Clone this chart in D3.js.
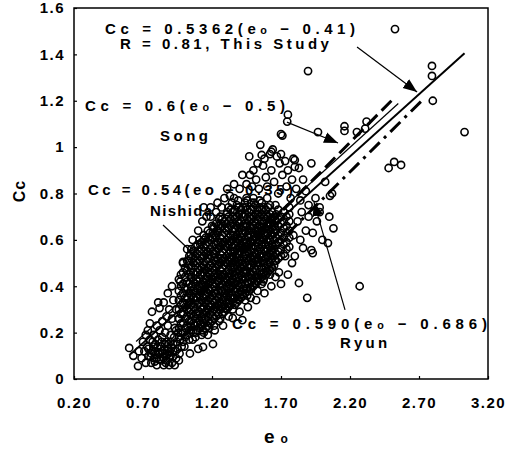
<!DOCTYPE html>
<html>
<head>
<meta charset="utf-8">
<script src="https://d3js.org/d3.v7.min.js"></script>
<style>
  body { margin: 0; background: #fff; }
  text { font-family: "Liberation Sans", Arial, sans-serif; fill: #000; font-weight: bold; }
</style>
</head>
<body>
<svg id="chart" width="509" height="450"></svg>
<script>
// ---- data ----
const xTicks = [0.2, 0.7, 1.2, 1.7, 2.2, 2.7, 3.2];
const yTicks = [0, 0.2, 0.4, 0.6, 0.8, 1, 1.2, 1.4, 1.6];
const yTickLabels = ["0", "0.2", "0.4", "0.6", "0.8", "1", "1.2", "1.4", "1.6"];

// lower-left tail of the cloud [eo, Cc]
const tailPts = [
  [0.60,0.134],[0.664,0.056],[0.63,0.10],[0.67,0.12],[0.69,0.09],[0.70,0.16],[0.71,0.12],
  [0.72,0.07],[0.73,0.14],[0.735,0.21],[0.74,0.10],[0.75,0.17],[0.76,0.07],[0.765,0.29],
  [0.77,0.12],[0.78,0.09],[0.79,0.15],[0.80,0.06],[0.81,0.33],[0.82,0.306],[0.81,0.11],
  [0.83,0.08],[0.83,0.14],[0.84,0.18],[0.85,0.06],[0.86,0.11],[0.86,0.15],[0.87,0.08],
  [0.88,0.13],[0.89,0.06],[0.90,0.10],[0.90,0.16],[0.91,0.07],[0.92,0.12],[0.93,0.06],
  [0.94,0.09],[0.78,0.19],[0.80,0.23],[0.82,0.21],[0.84,0.25],[0.86,0.20],[0.87,0.27],
  [0.88,0.23],[0.89,0.30],[0.90,0.19],[0.91,0.26],[0.92,0.34],[0.93,0.22],[0.94,0.30],
  [0.85,0.33],[0.88,0.37],[0.91,0.40],[0.97,0.42],[0.99,0.505],[1.03,0.51],[0.75,0.24],
  [0.72,0.19],[0.95,0.13],[0.96,0.08],[0.74,0.13],[0.77,0.16],[0.79,0.12],[0.81,0.17],
  [0.84,0.12],[0.87,0.16],[0.89,0.09],[0.92,0.15],[0.80,0.09],[0.85,0.09],[0.76,0.11],
  [0.755,0.095],[0.775,0.14],[0.785,0.075],[0.795,0.105],[0.805,0.135],[0.815,0.085],
  [0.825,0.115],[0.835,0.16],[0.845,0.095],[0.855,0.125],[0.865,0.07],[0.875,0.105],
  [0.885,0.15],[0.895,0.115],[0.905,0.135],[0.915,0.095],[0.925,0.18],[0.935,0.12],
  [0.945,0.16],[0.955,0.20],[0.965,0.11],[0.97,0.17],[0.98,0.14],[0.94,0.21],[0.96,0.26]
];

// dense middle of the cloud, one column per eo value: [eo, [Cc ...]]
const coreCols = [
  [0.96, [0.18,0.22,0.26,0.30,0.34,0.38,0.43]],
  [0.99, [0.16,0.20,0.24,0.28,0.33,0.37,0.41,0.46,0.50]],
  [1.02, [0.19,0.23,0.27,0.30,0.35,0.39,0.42,0.47,0.51]],
  [1.05, [0.21,0.25,0.28,0.32,0.36,0.40,0.44,0.48,0.52,0.56]],
  [1.08, [0.18,0.23,0.26,0.30,0.34,0.37,0.41,0.45,0.49,0.53,0.57]],
  [1.11, [0.22,0.25,0.29,0.33,0.36,0.40,0.43,0.47,0.51,0.55,0.60]],
  [1.14, [0.20,0.24,0.28,0.31,0.35,0.38,0.42,0.46,0.49,0.53,0.57,0.62]],
  [1.17, [0.23,0.27,0.30,0.34,0.37,0.41,0.44,0.48,0.52,0.55,0.59,0.64]],
  [1.20, [0.25,0.29,0.32,0.36,0.39,0.43,0.46,0.50,0.53,0.57,0.61,0.66]],
  [1.23, [0.27,0.31,0.34,0.37,0.41,0.44,0.48,0.51,0.55,0.58,0.62,0.67]],
  [1.26, [0.26,0.30,0.33,0.36,0.40,0.43,0.47,0.50,0.54,0.57,0.61,0.65,0.70]],
  [1.29, [0.29,0.32,0.35,0.39,0.42,0.45,0.49,0.52,0.56,0.59,0.63,0.68]],
  [1.32, [0.31,0.34,0.37,0.41,0.44,0.47,0.51,0.54,0.58,0.61,0.65,0.70,0.74]],
  [1.35, [0.30,0.33,0.36,0.40,0.43,0.46,0.50,0.53,0.57,0.60,0.64,0.67,0.72]],
  [1.38, [0.33,0.36,0.39,0.42,0.46,0.49,0.52,0.56,0.59,0.62,0.66,0.70,0.75]],
  [1.41, [0.35,0.38,0.41,0.45,0.48,0.51,0.55,0.58,0.61,0.65,0.68,0.73]],
  [1.44, [0.34,0.37,0.41,0.44,0.47,0.50,0.54,0.57,0.60,0.64,0.67,0.71,0.76]],
  [1.47, [0.38,0.41,0.44,0.48,0.51,0.54,0.58,0.61,0.64,0.68,0.72]],
  [1.50, [0.40,0.43,0.46,0.50,0.53,0.56,0.60,0.63,0.66,0.70,0.74,0.78]],
  [1.53, [0.42,0.45,0.49,0.52,0.55,0.59,0.62,0.65,0.69,0.73]],
  [1.56, [0.41,0.44,0.48,0.51,0.54,0.58,0.61,0.64,0.68,0.71,0.76]],
  [1.59, [0.45,0.48,0.52,0.55,0.58,0.62,0.65,0.69,0.73]],
  [1.62, [0.47,0.50,0.54,0.57,0.60,0.64,0.67,0.71,0.75]],
  [1.65, [0.49,0.53,0.56,0.60,0.63,0.66,0.70]],
  [1.68, [0.52,0.55,0.59,0.62,0.66,0.69,0.73]],
  [1.72, [0.54,0.58,0.61,0.65,0.68,0.72]],
  [1.76, [0.57,0.61,0.64,0.68,0.71]]
];

// second pass over the same dense area, read between the columns above
const coreCols2 = [
  [0.975, [0.20,0.24,0.28,0.32,0.36,0.40,0.45]],
  [1.005, [0.18,0.22,0.26,0.31,0.35,0.39,0.44,0.48]],
  [1.035, [0.17,0.21,0.25,0.29,0.33,0.37,0.41,0.45,0.49,0.53]],
  [1.065, [0.20,0.24,0.27,0.31,0.35,0.38,0.42,0.46,0.50,0.55]],
  [1.095, [0.21,0.24,0.28,0.32,0.35,0.39,0.42,0.46,0.50,0.54,0.58]],
  [1.125, [0.19,0.23,0.27,0.30,0.34,0.38,0.41,0.45,0.48,0.52,0.56,0.59]],
  [1.155, [0.22,0.26,0.29,0.33,0.36,0.40,0.43,0.47,0.51,0.54,0.58,0.61]],
  [1.185, [0.24,0.28,0.31,0.35,0.38,0.42,0.45,0.49,0.52,0.56,0.60,0.63]],
  [1.215, [0.23,0.26,0.30,0.33,0.37,0.40,0.44,0.47,0.51,0.54,0.58,0.62,0.65]],
  [1.245, [0.28,0.32,0.35,0.38,0.42,0.45,0.49,0.52,0.56,0.59,0.63,0.66]],
  [1.275, [0.28,0.31,0.34,0.38,0.41,0.44,0.48,0.51,0.55,0.58,0.62,0.66,0.69]],
  [1.305, [0.30,0.33,0.36,0.40,0.43,0.46,0.50,0.53,0.57,0.60,0.64,0.67,0.71]],
  [1.335, [0.32,0.35,0.39,0.42,0.45,0.49,0.52,0.55,0.59,0.62,0.66,0.69,0.73]],
  [1.365, [0.32,0.35,0.38,0.41,0.45,0.48,0.51,0.55,0.58,0.61,0.65,0.69,0.73]],
  [1.395, [0.34,0.37,0.40,0.44,0.47,0.50,0.54,0.57,0.60,0.64,0.67,0.71,0.74]],
  [1.425, [0.36,0.39,0.43,0.46,0.49,0.53,0.56,0.59,0.63,0.66,0.70,0.74]],
  [1.455, [0.36,0.39,0.42,0.46,0.49,0.52,0.56,0.59,0.62,0.66,0.69,0.73,0.77]],
  [1.485, [0.39,0.42,0.45,0.49,0.52,0.55,0.59,0.62,0.65,0.69,0.73,0.76]],
  [1.515, [0.41,0.44,0.47,0.51,0.54,0.57,0.61,0.64,0.67,0.71,0.75]],
  [1.545, [0.43,0.46,0.50,0.53,0.56,0.60,0.63,0.66,0.70,0.74,0.77]],
  [1.575, [0.43,0.46,0.50,0.53,0.56,0.60,0.63,0.67,0.70,0.74]],
  [1.605, [0.46,0.49,0.53,0.56,0.59,0.63,0.66,0.70,0.74]],
  [1.635, [0.48,0.52,0.55,0.58,0.62,0.65,0.69,0.72]],
  [1.665, [0.51,0.54,0.58,0.61,0.64,0.68,0.71]],
  [1.70, [0.53,0.56,0.60,0.63,0.67,0.70]],
  [1.74, [0.56,0.59,0.63,0.66,0.70]]
];

// third pass, the blackest middle part
const coreCols3 = [
  [1.045, [0.23,0.30,0.38,0.46,0.54]],
  [1.085, [0.20,0.28,0.355,0.43,0.51]],
  [1.115, [0.235,0.31,0.38,0.45,0.53,0.58]],
  [1.145, [0.26,0.33,0.40,0.475,0.55,0.60]],
  [1.175, [0.25,0.32,0.39,0.46,0.535,0.61]],
  [1.205, [0.27,0.34,0.41,0.48,0.55,0.63]],
  [1.235, [0.29,0.355,0.425,0.495,0.565,0.64]],
  [1.265, [0.315,0.38,0.45,0.52,0.59,0.67]],
  [1.295, [0.305,0.37,0.435,0.505,0.575,0.65]],
  [1.325, [0.325,0.39,0.455,0.525,0.595,0.68]],
  [1.355, [0.345,0.415,0.48,0.55,0.62,0.70]],
  [1.385, [0.345,0.405,0.47,0.54,0.605,0.68]],
  [1.415, [0.365,0.43,0.495,0.565,0.63,0.71]],
  [1.445, [0.39,0.455,0.52,0.585,0.655,0.74]],
  [1.475, [0.395,0.46,0.525,0.595,0.66,0.70]],
  [1.505, [0.415,0.48,0.545,0.615,0.68,0.76]],
  [1.535, [0.435,0.505,0.57,0.635,0.71]],
  [1.565, [0.455,0.525,0.59,0.655,0.73]],
  [1.595, [0.465,0.535,0.60,0.67,0.71]],
  [1.625, [0.485,0.555,0.62,0.69]],
  [1.655, [0.51,0.575,0.645,0.685]]
];

// scattered points under the band
const lowerPts = [
  [1.00,0.14],[1.04,0.11],[1.06,0.17],[1.10,0.13],[1.135,0.138],[1.207,0.151],[1.135,0.21],
  [1.17,0.19],[1.22,0.21],[1.28,0.23],[1.35,0.263],[1.42,0.254],[1.32,0.27],[1.40,0.29],
  [1.46,0.31],[1.52,0.34],[1.58,0.37],[1.63,0.40],[1.685,0.46],[1.70,0.41],[1.83,0.414],
  [1.89,0.35],[2.27,0.40],[1.75,0.45],[1.78,0.50],[1.66,0.44],[1.73,0.53],[1.80,0.53],
  [1.86,0.565],[1.93,0.543],[1.92,0.556],[2.00,0.60],[2.04,0.586],[1.93,0.63],[2.08,0.65],
  [1.84,0.60],[1.88,0.64],[1.96,0.68],[1.79,0.62],[1.82,0.68],[1.76,0.74],[1.85,0.72],
  [1.90,0.70],[1.98,0.72],[2.05,0.70],[1.53,0.38],[1.48,0.35],[1.57,0.42],[1.62,0.45],
  [1.25,0.25],[1.18,0.22]
];

// scattered points above the band
const upperPts = [
  [1.02,0.56],[1.06,0.60],[1.10,0.64],[1.13,0.68],[1.16,0.70],[1.19,0.74],[1.21,0.655],
  [1.23,0.72],[1.24,0.76],[1.27,0.74],[1.29,0.78],[1.31,0.82],[1.33,0.79],[1.345,0.76],
  [1.36,0.84],[1.39,0.77],[1.40,0.82],[1.42,0.88],[1.45,0.78],[1.45,0.84],[1.475,0.88],
  [1.49,0.83],[1.50,0.90],[1.52,0.86],[1.54,0.82],[1.55,1.01],[1.56,0.966],[1.57,0.92],
  [1.59,0.87],[1.60,0.83],[1.62,0.97],[1.63,0.90],[1.65,0.85],[1.67,0.96],[1.68,0.80],
  [1.69,0.93],[1.71,1.05],[1.71,0.88],[1.73,0.94],[1.74,0.83],[1.75,0.90],[1.77,0.78],
  [1.78,0.86],[1.80,0.944],[1.81,0.82],[1.83,0.91],[1.84,0.77],[1.86,0.86],[1.88,0.81],
  [1.90,0.75],[1.92,0.93],[1.95,0.78],[1.98,0.74],[2.02,0.85],[2.055,0.79],[2.07,0.80],
  [1.14,0.74],[1.19,0.70],[1.25,0.69],[1.31,0.72],[1.36,0.78],[1.47,0.96],[1.53,0.93],
  [1.58,0.95],[1.64,0.99],[1.70,0.97],[1.60,0.78],[1.66,0.75],[1.63,0.98],[1.79,0.95],
  [1.80,0.915]
];

// far-away points
const outlierPts = [
  [2.526,1.509],[1.896,1.328],[2.794,1.35],[2.794,1.307],[2.80,1.20],[3.03,1.065],
  [1.75,1.14],[1.745,1.11],[1.968,1.065],[1.70,1.056],[2.16,1.09],[2.16,1.07],
  [2.25,1.065],[2.31,1.08],[2.32,1.11],[2.48,0.91],[2.52,0.936],[2.57,0.923]
];

// regression lines Cc = a (eo - b)
const fitNames = ["This Study", "Song", "Nishida", "Ryun"];
const fitSlope = [0.5362, 0.6, 0.54, 0.590];
const fitE0 = [0.41, 0.5, 0.35, 0.686];
const fitFrom = [0.6, 1.0, 0.65, 1.0];
const fitTo = [3.03, 2.5, 2.55, 2.72];

// ---- layout ----
const svg = d3.select("#chart");
const plot = { left: 74, right: 488, top: 8, bottom: 379 };

const x = d3.scaleLinear().domain([0.2, 3.2]).range([plot.left, plot.right]);
const y = d3.scaleLinear().domain([0, 1.6]).range([plot.bottom, plot.top]);

// stretch a label's letter spacing so its ink covers a given width
function fitWidth(sel, w) {
  const node = sel.node();
  const n = node.textContent.length;
  const len = node.getComputedTextLength();
  sel.attr("letter-spacing", (w - len) / (n - 1));
}

// axes
const xAxis = d3.axisBottom(x).tickValues(xTicks).tickFormat(d3.format(".2f"))
  .tickSizeInner(-3).tickSizeOuter(0).tickPadding(18);
const yAxis = d3.axisLeft(y).tickValues(yTicks).tickFormat((d, i) => yTickLabels[i])
  .tickSizeInner(-3).tickSizeOuter(0).tickPadding(9);

const gx = svg.append("g").attr("transform", `translate(0,${plot.bottom})`).call(xAxis);
const gy = svg.append("g").attr("transform", `translate(${plot.left},0)`).call(yAxis);
[gx, gy].forEach(g => {
  g.select(".domain").remove();
  g.selectAll("line").attr("stroke", "#000").attr("stroke-width", 1.2);
  g.selectAll("text").attr("font-size", 15).attr("letter-spacing", 1.5);
});

// axis titles
svg.append("text")
  .attr("transform", "translate(25,191) rotate(-90)")
  .attr("text-anchor", "middle").attr("font-size", 16).attr("letter-spacing", 1)
  .text("Cc");
const xt = svg.append("text").attr("x", 264).attr("y", 443);
xt.append("tspan").attr("font-size", 19).text("e");
xt.append("tspan").attr("font-size", 12).attr("dx", 6).text("o");

// annotation labels (drawn first so points sit on top)
function eqLabel(ex, cy, pre, post, size, w) {
  const t = svg.append("text").attr("x", x(ex)).attr("y", y(cy))
    .attr("font-size", size).attr("xml:space", "preserve");
  t.append("tspan").text(pre + "e");
  t.append("tspan").attr("font-size", size * 0.72).text("o");
  t.append("tspan").text(post);
  if (w) fitWidth(t, w);
  return t;
}
function plainLabel(ex, cy, s, size, w) {
  const t = svg.append("text").attr("x", x(ex)).attr("y", y(cy))
    .attr("font-size", size).text(s);
  if (w) fitWidth(t, w);
  return t;
}

eqLabel(0.425, 1.490, "Cc = 0.5362(", " − 0.41)", 15, 250);
plainLabel(0.533, 1.424, "R = 0.81, This Study", 15, 209);
eqLabel(0.280, 1.156, "Cc = 0.6(", " − 0.5)", 15, 200);
plainLabel(0.823, 1.025, "Song", 15, 48);
const nl = eqLabel(0.301, 0.793, "Cc = 0.54(", " − 0.35)", 15, null);
nl.select("tspan:nth-child(2)").attr("font-size", 15);
fitWidth(nl, 205);
plainLabel(0.751, 0.703, "Nishida", 15, 62);
eqLabel(1.345, 0.216, "Cc = 0.590(", " − 0.686)", 15, 255);
plainLabel(2.128, 0.134, "Ryun", 15, 47);

// points
const cols = c => c.flatMap(([e, cs]) => cs.map(v => [e, v]));
const points = [
  ...tailPts,
  ...cols(coreCols),
  ...cols(coreCols2),
  ...cols(coreCols3),
  ...lowerPts,
  ...upperPts,
  ...outlierPts
];

svg.append("g")
  .selectAll("circle")
  .data(points)
  .join("circle")
  .attr("cx", d => x(d[0]))
  .attr("cy", d => y(d[1]))
  .attr("r", 3.6)
  .attr("fill", "none")
  .attr("stroke", "#000")
  .attr("stroke-width", 1.6);

// fitted lines
const fitStyle = {
  "This Study": { w: 2, dash: null },
  "Song": { w: 3, dash: "14,6" },
  "Nishida": { w: 1.2, dash: null },
  "Ryun": { w: 3, dash: "14,6,3,6" }
};
fitNames.forEach((name, i) => {
  const f = e => fitSlope[i] * (e - fitE0[i]);
  svg.append("line")
    .attr("x1", x(fitFrom[i])).attr("y1", y(f(fitFrom[i])))
    .attr("x2", x(fitTo[i])).attr("y2", y(f(fitTo[i])))
    .attr("stroke", "#000")
    .attr("stroke-width", fitStyle[name].w)
    .attr("stroke-dasharray", fitStyle[name].dash);
});

// arrows from labels to lines
svg.append("defs").append("marker")
  .attr("id", "head").attr("viewBox", "-14 -6 15 12")
  .attr("refX", 0).attr("refY", 0)
  .attr("markerWidth", 15).attr("markerHeight", 12)
  .attr("markerUnits", "userSpaceOnUse").attr("orient", "auto")
  .append("path").attr("d", "M0,0L-14,-5.5L-14,5.5Z").attr("fill", "#000");

const arrows = [
  { from: [2.251, 1.432], to: [2.686, 1.238], head: true },
  { from: [1.743, 1.108], to: [2.113, 1.018], head: true },
  { from: [0.845, 0.664], to: [1.091, 0.526], head: false },
  { from: [2.164, 0.298], to: [1.939, 0.763], head: true }
];
arrows.forEach(a => {
  svg.append("line")
    .attr("x1", x(a.from[0])).attr("y1", y(a.from[1]))
    .attr("x2", x(a.to[0])).attr("y2", y(a.to[1]))
    .attr("stroke", "#000").attr("stroke-width", 1.2)
    .attr("marker-end", a.head ? "url(#head)" : null);
});

// frame
svg.append("rect")
  .attr("x", plot.left).attr("y", plot.top)
  .attr("width", plot.right - plot.left).attr("height", plot.bottom - plot.top)
  .attr("fill", "none").attr("stroke", "#000").attr("stroke-width", 1.5);
</script>
</body>
</html>
